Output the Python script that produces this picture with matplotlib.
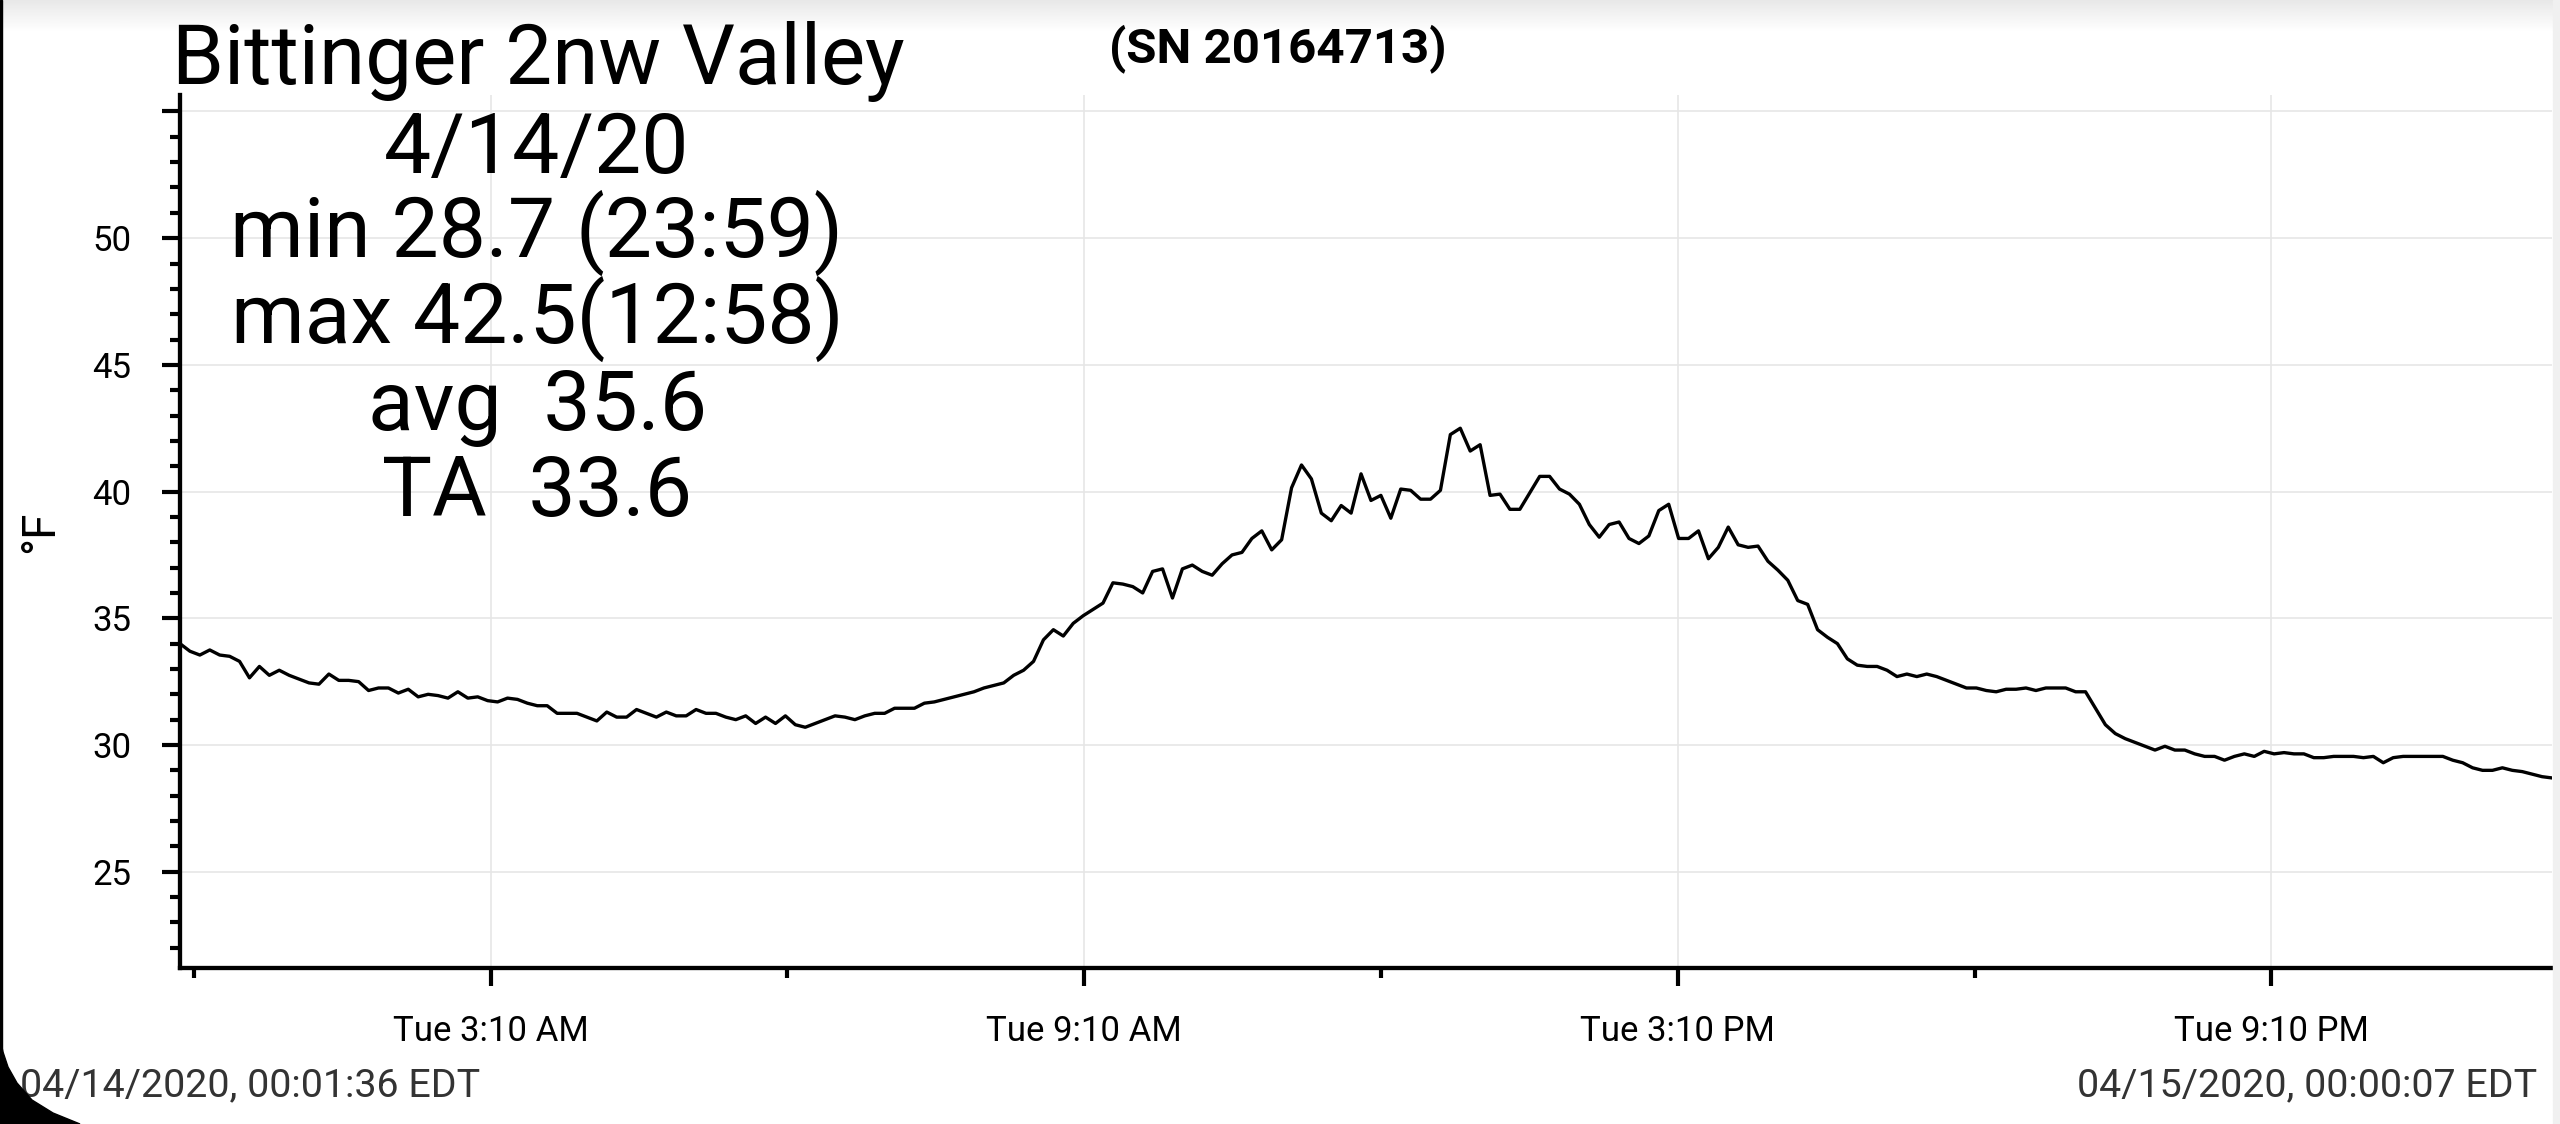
import numpy as np
import pandas as pd
import matplotlib
matplotlib.use("Agg")
import matplotlib.pyplot as plt
from matplotlib.patches import Rectangle, Polygon

plt.rcParams['font.family'] = ['Roboto', 'DejaVu Sans']

# data (about one reading every 6 minutes)
start = pd.Timestamp('2020-04-14 00:01:36')
end = pd.Timestamp('2020-04-15 00:00:07')
temps = [
    34.0, 33.7, 33.55, 33.75, 33.55, 33.5, 33.3, 32.65, 33.1, 32.75,
    32.95, 32.75, 32.6, 32.45, 32.4, 32.8, 32.55, 32.55, 32.5, 32.15,
    32.25, 32.25, 32.05, 32.2, 31.9, 32.0, 31.95, 31.85, 32.1, 31.85,
    31.9, 31.75, 31.7, 31.85, 31.8, 31.65, 31.55, 31.55, 31.25, 31.25,
    31.25, 31.1, 30.95, 31.3, 31.1, 31.1, 31.4, 31.25, 31.1,
    31.3, 31.15, 31.15, 31.4, 31.25, 31.25, 31.1, 31.0, 31.15, 30.85,
    31.1, 30.85, 31.15, 30.8, 30.7, 30.85, 31.0, 31.15, 31.1, 31.0,
    31.15, 31.25, 31.25, 31.45, 31.45, 31.45, 31.65, 31.7, 31.8, 31.9,
    32.0, 32.1, 32.25, 32.35, 32.45, 32.75, 32.95, 33.3, 34.15, 34.55,
    34.3, 34.8, 35.1, 35.35, 35.6,
    36.4, 36.35, 36.25, 36.0, 36.85, 36.95, 35.8, 36.95, 37.1, 36.85,
    36.7, 37.15, 37.5, 37.6, 38.15, 38.45, 37.7, 38.1, 40.15, 41.05,
    40.5, 39.15, 38.85, 39.45, 39.15, 40.7, 39.65, 39.85, 38.95, 40.1,
    40.05, 39.7, 39.7, 40.05, 42.25, 42.5, 41.6, 41.85, 39.85, 39.9,
    39.3, 39.3, 39.95, 40.6, 40.6, 40.1, 39.9, 39.5,
    38.7, 38.2, 38.7, 38.8, 38.15, 37.95, 38.25, 39.25, 39.5, 38.15,
    38.15, 38.45, 37.35, 37.8, 38.6, 37.9, 37.8, 37.85, 37.25, 36.9,
    36.5, 35.7, 35.55, 34.55, 34.25, 34.0, 33.4, 33.15, 33.1, 33.1,
    32.95, 32.7, 32.8, 32.7, 32.8, 32.7, 32.55, 32.4, 32.25, 32.25,
    32.15, 32.1, 32.2, 32.2, 32.25, 32.15, 32.25, 32.25, 32.25, 32.1,
    32.1,
    31.45, 30.8, 30.45, 30.25, 30.1, 29.95, 29.8, 29.95, 29.8, 29.8,
    29.65, 29.55, 29.55, 29.4, 29.55, 29.65, 29.55, 29.75, 29.65, 29.7,
    29.65, 29.65, 29.5, 29.5, 29.55, 29.55, 29.55, 29.5, 29.55, 29.3,
    29.5, 29.55, 29.55, 29.55, 29.55, 29.55, 29.4, 29.3, 29.1, 29.0,
    29.0, 29.1, 29.0, 28.95, 28.85, 28.75, 28.7,
]
times = pd.date_range(start, end, periods=len(temps))

major_times = pd.to_datetime(['2020-04-14 03:10', '2020-04-14 09:10',
                              '2020-04-14 15:10', '2020-04-14 21:10'])
minor_times = pd.to_datetime(['2020-04-14 00:10', '2020-04-14 06:10',
                              '2020-04-14 12:10', '2020-04-14 18:10'])
x_labels = ['Tue 3:10 AM', 'Tue 9:10 AM', 'Tue 3:10 PM', 'Tue 9:10 PM']
y_ticks = [25, 30, 35, 40, 45, 50, 55]
y_labels = ['25', '30', '35', '40', '45', '50', '']

title = 'Bittinger 2nw Valley'
serial = '(SN 20164713)'
stats_lines = ['4/14/20', 'min 28.7 (23:59)', 'max 42.5(12:58)', 'avg  35.6', 'TA  33.6']
start_label = '04/14/2020, 00:01:36 EDT'
end_label = '04/15/2020, 00:00:07 EDT'

W, H = 2560, 1124
fig = plt.figure(figsize=(W / 100, H / 100), dpi=100, facecolor='white')


def fx(px):
    return px / W


def fy(py):
    return 1 - py / H


# screenshot frame bits: top shade, left edge, right strip, rounded corner
shade = fig.add_axes([0, fy(32), 1, 32 / H], zorder=-5)
shade.imshow(np.linspace(0.91, 1.0, 50).reshape(-1, 1), cmap='gray', vmin=0, vmax=1,
             aspect='auto', extent=[0, 1, 0, 1])
shade.axis('off')
fig.patches.append(Rectangle((0, 0), fx(2), 1, transform=fig.transFigure,
                             color='black', zorder=5))
fig.patches.append(Rectangle((fx(2553), 0), fx(7), 1, transform=fig.transFigure,
                             color='#f0f0f0', zorder=5))
edge = [(0, 1038), (3, 1052), (8, 1067), (17, 1083), (32, 1100), (53, 1113), (80, 1124)]
corner = [(fx(x), fy(y)) for x, y in edge] + [(0, 0)]
fig.patches.append(Polygon(corner, closed=True, transform=fig.transFigure,
                           color='black', zorder=5))

ax = fig.add_axes([fx(180), fy(968), fx(2552 - 180), (968 - 95) / H])
ax.plot(times, temps, color='black', lw=2.4, zorder=3)

ax.set_xlim(start, end)
ax.set_ylim(21.2, 55.65)
ax.set_xticks(major_times, labels=x_labels)
ax.set_xticks(minor_times, minor=True)
ax.set_yticks(y_ticks, labels=y_labels)
ax.set_yticks(np.arange(22, 56, 1), minor=True)

ax.grid(True, which='major', color='#e6e6e6', lw=1.2)
ax.set_axisbelow(True)
for s in ['top', 'right']:
    ax.spines[s].set_visible(False)
for s in ['left', 'bottom']:
    ax.spines[s].set_linewidth(3.1)
ax.tick_params(axis='both', which='major', length=13, width=3, color='black')
ax.tick_params(axis='both', which='minor', length=7, width=3, color='black')
ax.tick_params(axis='y', which='major', labelsize=25, pad=22)
ax.tick_params(axis='x', which='major', labelsize=25, pad=21)
ax.set_ylabel('°F', fontsize=33, labelpad=22)

fig.text(fx(172), fy(84), title, fontsize=60.1, ha='left', va='baseline')
fig.text(fx(1278), fy(62), serial, fontsize=35.5, fontweight='bold', ha='center', va='baseline')
for line, base in zip(stats_lines, [173, 257, 343, 430, 516]):
    fig.text(fx(537), fy(base), line, fontsize=60.5, ha='center', va='baseline')
fig.text(fx(20), fy(1096), start_label, fontsize=28.4, color='#333333', ha='left', va='baseline')
fig.text(fx(2537), fy(1096), end_label, fontsize=28.4, color='#333333', ha='right', va='baseline')

fig.savefig('out.png', dpi=100, facecolor='white')
